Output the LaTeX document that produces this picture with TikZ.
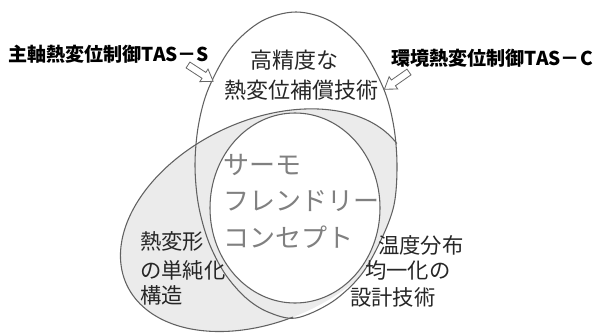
\documentclass[tikz,border=0pt]{standalone}
\usepackage{fontspec}
\setmainfont{Noto Sans CJK JP}
\begin{document}
\begin{tikzpicture}[x=0.75pt,y=-0.75pt,
  outline/.style={draw=black!62, line width=0.8pt},
  shadefill/.style={fill=black!8},
  lbl/.style={font=\bfseries\fontsize{14.3pt}{16pt}\selectfont, text=black, inner sep=0pt},
  mainlbl/.style={font=\fontsize{16.5pt}{18pt}\selectfont, text=black!85, inner sep=0pt},
  corelbl/.style={font=\fontsize{19.5pt}{22pt}\selectfont, text=black!50, inner sep=0pt},
  sidelbl/.style={font=\fontsize{16pt}{18pt}\selectfont, text=black!85, inner sep=0pt, anchor=west},
  arrowbox/.style={draw=black!60, fill=white, line width=0.6pt, line join=miter}]
\useasboundingbox (0,0) rectangle (596,335);
\fill[white] (0,0) rectangle (596,335);

% light grey shading of the lower-left ellipse
\begin{scope}
  \clip[shift={(265.4,220.2)}, rotate=25] (0,0) ellipse [x radius=153, y radius=100];
  \fill[shadefill] plot[smooth cycle, tension=0.55] coordinates {
    (296,12) (330.5,21.2) (361,47.8) (383.5,88.5) (393.6,125.4) (397,165)
    (394,205) (381,240) (361,275) (332,302) (296,318) (268,312) (245.5,297.5)
    (224.6,273.2) (208.5,241.5) (198.4,204.6) (195,165) (198.4,125.4)
    (208.5,88.5) (231,47.8) (261.5,21.2)};
  \fill[shadefill] (0,0) rectangle (296,335);
\end{scope}

% central circle
\fill[white] (295,208) ellipse [x radius=85, y radius=95];
\draw[outline] (295,208) ellipse [x radius=85, y radius=95];

% top ellipse
\draw[outline] plot[smooth cycle, tension=0.55] coordinates {
    (296,12) (330.5,21.2) (361,47.8) (383.5,88.5) (393.6,125.4) (397,165)
    (394,205) (381,240) (361,275) (332,302) (296,318) (268,312) (245.5,297.5)
    (224.6,273.2) (208.5,241.5) (198.4,204.6) (195,165) (198.4,125.4)
    (208.5,88.5) (231,47.8) (261.5,21.2)};

% lower-left tilted ellipse (visible part)
\draw[outline, shift={(265.4,220.2)}, rotate=25]
  plot[domain=-8:-264, samples=120, smooth, variable=\t] ({153*cos(\t)},{100*sin(\t)});

% hollow arrows
\path[arrowbox, shift={(188,65)}, rotate=-33]
  (0,-3.5) -- (19,-3.5) -- (19,-7.5) -- (30,0) -- (19,7.5) -- (19,3.5) -- (0,3.5) -- cycle;
\path[arrowbox, shift={(409,72)}, rotate=215]
  (0,-3.5) -- (19,-3.5) -- (19,-7.5) -- (30,0) -- (19,7.5) -- (19,3.5) -- (0,3.5) -- cycle;

% labels
\node[lbl, anchor=west] (spindle) at (8,54) {主軸熱変位制御TAS－S};
\node[lbl, anchor=east] (ambient) at (593,58) {環境熱変位制御TAS－C};

\node[mainlbl] (hp1) at (294.5,60) {高精度な};
\node[mainlbl] (hp2) at (301,90) {熱変位補償技術};

\node[corelbl, anchor=west] (c1) at (223,165) {サーモ};
\node[corelbl, anchor=west] (c2) at (223,201) {フレンドリー};
\node[corelbl, anchor=west] (c3) at (223,237) {コンセプト};

\node[sidelbl] (l1) at (140,241) {熱変形};
\node[sidelbl] (l2) at (140,270) {の単純化};
\node[sidelbl] (l3) at (140,295) {構造};

\node[sidelbl] (r1) at (378,245) {温度分布};
\node[sidelbl] (r2) at (365,270) {均一化の};
\node[sidelbl] (r3) at (350,297) {設計技術};
\end{tikzpicture}
\end{document}
